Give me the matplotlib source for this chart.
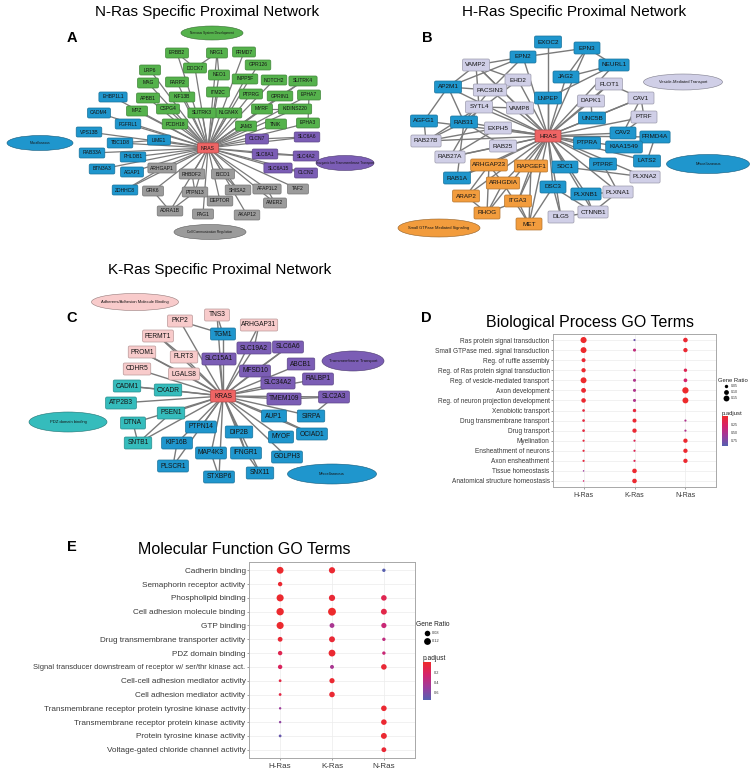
import numpy as np
import matplotlib.pyplot as plt
from matplotlib.patches import FancyBboxPatch, Ellipse
from matplotlib.colors import LinearSegmentedColormap, Normalize
from matplotlib.cm import ScalarMappable

plt.rcParams['font.family'] = ['Liberation Sans', 'DejaVu Sans']

## data: networks (node names by category)
a_hub = "NRAS"
a_green = ["ERBB2", "NRG1", "FRMD7", "DOCK7", "GPR126", "LRP6", "NEO1", "INPP5F", "NOTCH2",
           "SLITRK4", "MAG", "FARP2", "ITM2C", "PTPRG", "GPRIN1", "EPHA7", "APBB1", "KIF13B",
           "MPZ", "CSPG4", "SLITRK3", "NLGN4X", "MYRF", "KIDINS220", "PCDH18", "JAM3", "TNIK", "EPHA3"]
a_blue = ["EHBP1L1", "CADM4", "FGFRL1", "VPS13B", "TBC1D8", "LIME1", "RAB33A", "PHLDB1",
          "BTN3A3", "AGAP1", "ZDHHC8"]
a_purple = ["CLCN7", "SLC6A6", "SLC8A1", "SLC4A2", "SLC6A15", "CLCN2"]
a_gray = ["ARHGAP1", "GRK6", "ADRA1B", "RHBDF2", "BICD1", "PTPN13", "SHISA2", "AFAP1L2",
          "TAF2", "DEPTOR", "AMER2", "PAG1", "AKAP12"]
a_links = [("ERBB2", "DOCK7"), ("NRG1", "DOCK7"), ("NRG1", "NEO1"), ("SLITRK4", "GPRIN1"),
           ("EPHA7", "EPHA3"), ("MYRF", "KIDINS220"), ("CLCN7", "SLC6A6"), ("SLC8A1", "SLC4A2"),
           ("SLC6A15", "CLCN2"), ("GRK6", "ADRA1B"), ("ADRA1B", "PTPN13"), ("ZDHHC8", "ARHGAP1"),
           ("AFAP1L2", "AMER2"), ("TBC1D8", "LIME1"), ("RHBDF2", "PTPN13"), ("BICD1", "SHISA2")]
a_terms = ["Nervous System Development", "Miscellaneous", "Inorganic Ion Transmembrane Transport",
           "Cell Communication Regulation"]

b_hub = "HRAS"
b_blue = ["EXOC2", "EPN2", "EPN3", "JAG2", "AP2M1", "LNPEP", "NEURL1", "AGFG1", "RAB31", "UNC5B",
          "CAV2", "FRMD4A", "PTPRA", "KIAA1549", "LATS2", "SDC1", "PTPRF", "PLXNB1", "RAB1A", "DSC3"]
b_lavender = ["VAMP2", "EHD2", "PACSIN3", "SYTL4", "VAMP8", "EXPH5", "RAB27B", "RAB25", "RAB27A",
              "FLOT1", "DAPK1", "CAV1", "PTRF", "PLXNA2", "PLXNA1", "CTNNB1", "DLG5"]
b_orange = ["ARHGAP23", "RAPGEF1", "ARHGDIA", "ARAP2", "ITGA3", "RHOG", "MET"]
b_links = [("EPN2", "VAMP2"), ("EPN2", "AP2M1"), ("EPN2", "EPN3"), ("EPN2", "PACSIN3"),
           ("EPN3", "NEURL1"), ("EPN3", "JAG2"), ("NEURL1", "JAG2"), ("VAMP2", "AP2M1"),
           ("VAMP2", "EHD2"), ("VAMP2", "SYTL4"), ("VAMP2", "VAMP8"), ("AP2M1", "PACSIN3"),
           ("AP2M1", "AGFG1"), ("AP2M1", "RAB31"), ("EHD2", "PACSIN3"), ("EHD2", "RAB31"),
           ("PACSIN3", "RAB31"), ("SYTL4", "RAB27A"), ("SYTL4", "RAB27B"), ("SYTL4", "VAMP8"),
           ("EXPH5", "RAB27A"), ("EXPH5", "RAB27B"), ("RAB25", "RAB27A"), ("RAB25", "RAB31"),
           ("RAB27B", "RAB31"), ("RAB31", "RAB1A"), ("AGFG1", "RAB27B"), ("FLOT1", "CAV1"),
           ("FLOT1", "DAPK1"), ("CAV1", "PTRF"), ("CAV1", "CAV2"), ("CAV1", "UNC5B"),
           ("PTRF", "CAV2"), ("DAPK1", "UNC5B"), ("FRMD4A", "LATS2"), ("PTPRF", "PLXNA1"),
           ("SDC1", "PLXNA2"), ("PLXNB1", "PLXNA1"), ("PLXNB1", "CTNNB1"), ("PLXNA1", "CTNNB1"),
           ("DSC3", "CTNNB1"), ("DSC3", "DLG5"), ("DLG5", "CTNNB1"), ("MET", "ITGA3"),
           ("MET", "RAPGEF1"), ("MET", "DSC3"), ("MET", "ARHGDIA"), ("RHOG", "ARHGDIA"),
           ("RHOG", "ARAP2"), ("RHOG", "ARHGAP23"), ("RHOG", "ITGA3"), ("ARAP2", "ARHGAP23"),
           ("RAPGEF1", "ITGA3"), ("ARHGDIA", "ARHGAP23"), ("RAB1A", "ARHGAP23"), ("NEURL1", "LNPEP")]
b_terms = ["Vesicle-Mediated Transport", "Miscellaneous", "Small GTPase Mediated Signaling"]

c_hub = "KRAS"
c_pink = ["PKP2", "TNS3", "ARHGAP31", "FERMT1", "PROM1", "FLRT3", "CDHR5", "LGALS8"]
c_teal = ["CADM1", "CXADR", "ATP2B3", "PSEN1", "DTNA", "SNTB1"]
c_purple = ["SLC19A2", "SLC6A6", "SLC15A1", "ABCB1", "MFSD10", "RALBP1", "SLC34A2", "TMEM109", "SLC2A3"]
c_blue = ["TGM1", "KIF16B", "PLSCR1", "AUP1", "SIRPA", "PTPN14", "DIP2B", "MYOF", "OCIAD1",
          "MAP4K3", "IFNGR1", "GOLPH3", "SNX11", "STXBP6"]
c_links = [("TNS3", "TGM1"), ("PKP2", "TGM1"), ("FERMT1", "FLRT3"), ("PROM1", "LGALS8"),
           ("CADM1", "CXADR"), ("DTNA", "SNTB1"), ("SNTB1", "PSEN1"), ("KIF16B", "PLSCR1"),
           ("SLC6A6", "MFSD10"), ("TMEM109", "SLC2A3"), ("SLC2A3", "SIRPA"), ("AUP1", "OCIAD1"),
           ("DIP2B", "IFNGR1"), ("IFNGR1", "SNX11"), ("MAP4K3", "STXBP6"), ("ARHGAP31", "SLC19A2")]
c_terms = ["Adherens/Adhesion Molecule Binding", "PDZ domain binding", "Transmembrane Transport",
           "Miscellaneous"]

## data: GO dot plots
groups = ["H-Ras", "K-Ras", "N-Ras"]
bp_terms = ["Ras protein signal transduction", "Small GTPase med. signal transduction",
            "Reg. of ruffle assembly", "Reg. of Ras protein signal transduction",
            "Reg. of vesicle-mediated transport", "Axon development",
            "Reg. of neuron projection development", "Xenobiotic transport",
            "Drug transmembrane transport", "Drug transport", "Myelination",
            "Ensheathment of neurons", "Axon ensheathment", "Tissue homeostasis",
            "Anatomical structure homeostasis"]
nan = np.nan
bp_ratio = np.array([[0.16, 0.02, 0.09], [0.15, 0.04, 0.08], [0.07, nan, nan], [0.08, 0.02, 0.05],
                     [0.15, 0.04, 0.06], [0.10, 0.04, 0.17], [0.09, 0.04, 0.15], [0.03, 0.05, nan],
                     [0.03, 0.07, 0.02], [0.03, 0.08, 0.02], [0.02, 0.02, 0.08], [0.02, 0.02, 0.08],
                     [0.02, 0.02, 0.08], [0.01, 0.09, nan], [0.01, 0.09, nan]])
bp_padj = np.array([[0.02, 0.80, 0.05], [0.02, 0.40, 0.05], [0.05, nan, nan], [0.03, 0.40, 0.20],
                    [0.02, 0.50, 0.30], [0.04, 0.50, 0.02], [0.04, 0.50, 0.02], [0.10, 0.10, nan],
                    [0.10, 0.05, 0.50], [0.10, 0.05, 0.50], [0.10, 0.20, 0.04], [0.10, 0.20, 0.04],
                    [0.10, 0.20, 0.04], [0.60, 0.04, nan], [0.30, 0.04, nan]])

mf_terms = ["Cadherin binding", "Semaphorin receptor activity", "Phospholipid binding",
            "Cell adhesion molecule binding", "GTP binding", "Drug transmembrane transporter activity",
            "PDZ domain binding", "Signal transducer downstream of receptor w/ ser/thr kinase act.",
            "Cell-cell adhesion mediator activity", "Cell adhesion mediator activity",
            "Transmembrane receptor protein tyrosine kinase activity",
            "Transmembrane receptor protein kinase activity", "Protein tyrosine kinase activity",
            "Voltage-gated chloride channel activity"]
mf_ratio = np.array([[0.12, 0.10, 0.03], [0.05, nan, nan], [0.13, 0.10, 0.08], [0.14, 0.16, 0.09],
                     [0.13, 0.06, 0.07], [0.06, 0.09, 0.03], [0.05, 0.12, 0.03], [0.05, 0.04, 0.08],
                     [0.02, 0.07, nan], [0.02, 0.08, nan], [0.015, nan, 0.08], [0.015, nan, 0.08],
                     [0.02, nan, 0.09], [nan, nan, 0.06]])
mf_padj = np.array([[0.02, 0.03, 0.75], [0.03, nan, nan], [0.02, 0.05, 0.15], [0.02, 0.01, 0.12],
                    [0.02, 0.45, 0.30], [0.05, 0.05, 0.35], [0.15, 0.03, 0.30], [0.20, 0.45, 0.05],
                    [0.10, 0.03, nan], [0.10, 0.04, nan], [0.50, nan, 0.03], [0.55, nan, 0.03],
                    [0.70, nan, 0.03], [nan, nan, 0.05]])

## layout (pixel positions of network nodes)
pos_a = {"NRAS": (208, 148),
         "ERBB2": (177, 53), "NRG1": (217, 53), "FRMD7": (244, 52), "DOCK7": (195, 68),
         "GPR126": (258, 65), "LRP6": (150, 70), "NEO1": (219, 75), "INPP5F": (245, 79),
         "NOTCH2": (274, 80), "SLITRK4": (303, 81), "MAG": (148, 83), "FARP2": (177, 82),
         "ITM2C": (218, 92), "PTPRG": (251, 94), "GPRIN1": (280, 96), "EPHA7": (309, 95),
         "APBB1": (148, 98), "KIF13B": (182, 97), "EHBP1L1": (113, 97), "MPZ": (137, 111),
         "CSPG4": (168, 109), "CADM4": (99, 113), "SLITRK3": (202, 113), "NLGN4X": (229, 113),
         "MYRF": (262, 109), "KIDINS220": (295, 109), "FGFRL1": (128, 124), "PCDH18": (175, 124),
         "JAM3": (246, 126), "TNIK": (276, 124), "EPHA3": (308, 123), "VPS13B": (89, 132),
         "CLCN7": (257, 139), "SLC6A6": (307, 137), "TBC1D8": (120, 143), "LIME1": (159, 140),
         "RAB33A": (92, 153), "PHLDB1": (133, 157), "BTN3A3": (102, 169), "AGAP1": (132, 172),
         "ARHGAP1": (162, 168), "ZDHHC8": (125, 190), "GRK6": (153, 191), "ADRA1B": (170, 211),
         "SLC8A1": (265, 154), "SLC4A2": (306, 156), "SLC6A15": (278, 168), "CLCN2": (306, 173),
         "RHBDF2": (192, 174), "BICD1": (223, 174), "PTPN13": (195, 192), "SHISA2": (238, 190),
         "AFAP1L2": (267, 189), "TAF2": (298, 189), "DEPTOR": (220, 201), "AMER2": (275, 203),
         "PAG1": (203, 214), "AKAP12": (247, 215)}
ell_a = [(212, 33, 62, 14), (40, 143, 66, 15), (345, 163, 58, 15), (210, 232, 72, 15)]

pos_b = {"HRAS": (548, 136),
         "EXOC2": (548, 42), "EPN2": (523, 57), "VAMP2": (476, 65), "EHD2": (518, 80),
         "JAG2": (566, 77), "AP2M1": (448, 87), "PACSIN3": (490, 90), "LNPEP": (548, 98),
         "SYTL4": (479, 107), "VAMP8": (520, 108), "AGFG1": (424, 121), "RAB31": (464, 122),
         "EXPH5": (498, 128), "RAB27B": (426, 141), "RAB25": (503, 146), "EPN3": (587, 48),
         "NEURL1": (614, 65), "FLOT1": (609, 84), "DAPK1": (591, 101), "CAV1": (641, 98),
         "UNC5B": (592, 118), "PTRF": (644, 117), "CAV2": (623, 133), "FRMD4A": (655, 137),
         "PTPRA": (587, 143), "KIAA1549": (624, 147), "LATS2": (647, 161), "SDC1": (565, 167),
         "PTPRF": (603, 164), "PLXNA2": (645, 177), "PLXNB1": (586, 194), "PLXNA1": (618, 192),
         "CTNNB1": (593, 212), "DLG5": (561, 217), "RAB27A": (450, 157), "ARHGAP23": (489, 165),
         "RAPGEF1": (531, 166), "RAB1A": (457, 178), "ARHGDIA": (503, 183), "DSC3": (553, 187),
         "ARAP2": (466, 196), "ITGA3": (518, 201), "RHOG": (487, 213), "MET": (529, 224)}
ell_b = [(683, 82, 79, 16), (708, 164, 83, 19), (439, 228, 82, 18)]

pos_c = {"KRAS": (223, 396),
         "PKP2": (180, 321), "TNS3": (217, 315), "ARHGAP31": (259, 325), "FERMT1": (158, 336),
         "TGM1": (223, 334), "PROM1": (142, 352), "FLRT3": (184, 357), "SLC19A2": (254, 348),
         "SLC6A6": (288, 347), "SLC15A1": (219, 359), "CDHR5": (137, 369), "LGALS8": (184, 374),
         "ABCB1": (301, 364), "MFSD10": (255, 371), "RALBP1": (318, 379), "SLC34A2": (278, 383),
         "CADM1": (127, 386), "CXADR": (168, 390), "TMEM109": (284, 399), "SLC2A3": (334, 397),
         "ATP2B3": (121, 403), "PSEN1": (171, 413), "AUP1": (274, 416), "SIRPA": (311, 416),
         "DTNA": (133, 423), "PTPN14": (201, 427), "DIP2B": (239, 432), "MYOF": (281, 437),
         "OCIAD1": (312, 434), "SNTB1": (138, 443), "KIF16B": (177, 443), "MAP4K3": (211, 453),
         "IFNGR1": (246, 453), "GOLPH3": (287, 457), "PLSCR1": (173, 466), "SNX11": (260, 473),
         "STXBP6": (219, 477)}
ell_c = [(135, 302, 87, 17), (68, 422, 78, 20), (353, 361, 62, 20), (332, 474, 89, 20)]

green, blue, purple, gray = "#55b24c", "#1f96cd", "#7b5db5", "#9b9b9b"
red, lavender, orange = "#ee6464", "#d0cfe7", "#f29c3d"
pink, teal = "#f8cbcb", "#35bcbc"

W, H = 756, 771
fig = plt.figure(figsize=(W / 100, H / 100), dpi=100)
ov = fig.add_axes([0, 0, 1, 1])
ov.set_xlim(0, W)
ov.set_ylim(H, 0)
ov.axis('off')


def darker(c, f=0.75):
    r, g, b = plt.matplotlib.colors.to_rgb(c)
    return (r * f, g * f, b * f)


def draw_net(hub, cats, pos, links, terms, ells, ell_cols, fs, cw, pad, minw, bh, efs, lw):
    for n, (x, y) in pos.items():
        if n != hub:
            ov.plot([pos[hub][0], x], [pos[hub][1], y], color="#7a7a7a", lw=lw, zorder=1,
                    solid_capstyle='butt')
    for a, b in links:
        ov.plot([pos[a][0], pos[b][0]], [pos[a][1], pos[b][1]], color="#7a7a7a", lw=lw, zorder=1)
    for col, names in cats + [(red, [hub])]:
        for n in names:
            x, y = pos[n]
            w = max(minw, cw * len(n) + pad)
            ov.add_patch(FancyBboxPatch((x - w / 2, y - bh / 2), w, bh,
                                        boxstyle="round,pad=0,rounding_size=1.5",
                                        fc=col, ec=darker(col), lw=0.5, zorder=3))
            ov.text(x, y, n, ha='center', va='center', fontsize=fs, color="#151515", zorder=4)
    for t, (x, y, w, h), col in zip(terms, ells, ell_cols):
        ov.add_patch(Ellipse((x, y), w, h, fc=col, ec=darker(col, 0.6), lw=0.4, zorder=3))
        ov.text(x, y, t, ha='center', va='center', fontsize=efs, color="#151515", zorder=4)


draw_net(a_hub, [(green, a_green), (blue, a_blue), (purple, a_purple), (gray, a_gray)],
         pos_a, a_links, a_terms, ell_a, [green, blue, purple, gray],
         3.6, 2.6, 10, 21, 10, 2.3, 0.9)
draw_net(b_hub, [(blue, b_blue), (lavender, b_lavender), (orange, b_orange)],
         pos_b, b_links, b_terms, ell_b, [lavender, blue, orange],
         4.6, 3.2, 11, 26, 12, 2.9, 1.0)
draw_net(c_hub, [(pink, c_pink), (teal, c_teal), (purple, c_purple), (blue, c_blue)],
         pos_c, c_links, c_terms, ell_c, [pink, teal, purple, blue],
         4.8, 3.3, 11, 25, 12, 3.0, 1.0)

# titles and panel letters
ov.text(207, 12, "N-Ras Specific Proximal Network", ha='center', va='center', fontsize=11)
ov.text(574, 12, "H-Ras Specific Proximal Network", ha='center', va='center', fontsize=11)
ov.text(220, 270, "K-Ras Specific Proximal Network", ha='center', va='center', fontsize=11)
ov.text(590, 322, "Biological Process GO Terms", ha='center', va='center', fontsize=11.5)
ov.text(244, 550, "Molecular Function GO Terms", ha='center', va='center', fontsize=11.5)
for lab, x, y in [("A", 72, 38), ("B", 427, 38), ("C", 72, 318), ("D", 426, 318), ("E", 72, 547)]:
    ov.text(x, y, lab, ha='center', va='center', fontsize=10.5, fontweight='bold')

cmap = LinearSegmentedColormap.from_list("padj", ["#ee2a2a", "#d4236c", "#9c3b9c", "#5560b0"])


def px_rect(x0, y0, x1, y1):
    return [x0 / W, 1 - y1 / H, (x1 - x0) / W, (y1 - y0) / H]


def dotplot(rect, terms, ratio, padj, k, norm, lab_fs, x_fs):
    ax = fig.add_axes(rect)
    n = len(terms)
    ys = n - np.arange(n)
    for j in range(3):
        m = ~np.isnan(ratio[:, j])
        ax.scatter(np.full(m.sum(), j + 1), ys[m], s=k * ratio[m, j], c=padj[m, j],
                   cmap=cmap, norm=norm, linewidths=0, zorder=3)
    ax.set_xlim(0.4, 3.6)
    ax.set_ylim(0.4, n + 0.6)
    ax.set_xticks([1, 2, 3])
    ax.set_xticklabels(groups)
    ax.set_yticks(ys)
    ax.set_yticklabels(terms)
    ax.grid(True, color="#ececec", lw=0.5, zorder=0)
    ax.set_axisbelow(True)
    for s in ax.spines.values():
        s.set_color("#a8a8a8")
        s.set_linewidth(0.7)
    ax.tick_params(axis='y', labelsize=lab_fs, length=1.5, width=0.4, color="#555555",
                   labelcolor="#3a3a3a", pad=1)
    ax.tick_params(axis='x', labelsize=x_fs, length=1.5, width=0.4, color="#555555",
                   labelcolor="#3a3a3a", pad=2)
    return ax


def legend(gx, gy, dx, ratios, dy, k, cb, ticks, tick_labels, norm, fs, tfs):
    ov.text(gx, gy, "Gene Ratio", ha='left', va='center', fontsize=fs, color="#222222")
    for i, r in enumerate(ratios):
        y = gy + dy * (i + 1)
        ov.scatter([gx + dx], [y], s=k * r, color='black', linewidths=0, zorder=5)
        ov.text(gx + dx + 5, y, "%.2f" % r, ha='left', va='center', fontsize=tfs, color="#333333")
    py = gy + dy * (len(ratios) + 1) + 10
    ov.text(cb[0], py, "p.adjust", ha='left', va='center', fontsize=fs, color="#222222")
    cax = fig.add_axes(px_rect(*cb))
    cbar = fig.colorbar(ScalarMappable(norm=norm, cmap=cmap), cax=cax)
    cax.invert_yaxis()
    cbar.outline.set_visible(False)
    cbar.set_ticks(ticks)
    cbar.set_ticklabels(tick_labels)
    cax.tick_params(length=0, labelsize=tfs, pad=2, labelcolor="#333333")


norm_bp = Normalize(0.01, 0.9)
dotplot(px_rect(553, 334, 716, 487), bp_terms, bp_ratio, bp_padj, 120, norm_bp, 4.7, 5)
legend(718, 380, 8, [0.05, 0.10, 0.15], 6, 120, (722, 416, 728, 446), [0.25, 0.5, 0.75],
       ["0.25", "0.50", "0.75"], norm_bp, 4.2, 2.6)

norm_mf = Normalize(0.0, 0.76)
ax_e = dotplot(px_rect(249, 562, 415, 758), mf_terms, mf_ratio, mf_padj, 200, norm_mf, 5.9, 5.8)
ax_e.get_yticklabels()[7].set_fontsize(5.4)
legend(416, 625, 11, [0.08, 0.12], 8, 200, (423, 662, 431, 700), [0.2, 0.4, 0.6],
       ["0.2", "0.4", "0.6"], norm_mf, 4.8, 2.8)

fig.savefig("out.png", dpi=100)
